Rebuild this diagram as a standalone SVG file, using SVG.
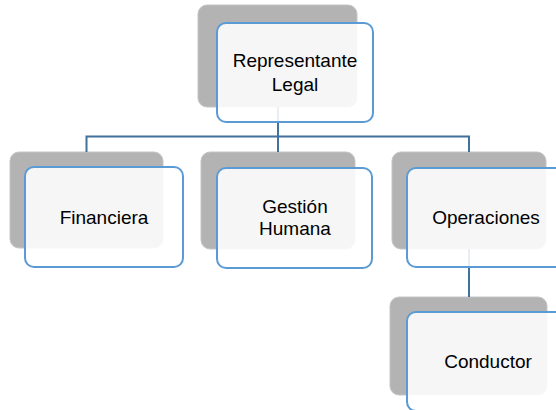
<svg xmlns="http://www.w3.org/2000/svg" width="556" height="410" viewBox="0 0 556 410">
<style>
.shadow{fill:#b3b3b3;stroke:#c4c4c4;stroke-width:1}
.card{fill:#ffffff;fill-opacity:0.88;stroke:#5b9bd5;stroke-width:2}
.lbl{font-family:"Liberation Sans",Arial,sans-serif;font-size:19px;fill:#000;text-anchor:middle}
.conn{fill:none;stroke:#41719c;stroke-width:2}
</style>
<rect width="556" height="410" fill="#ffffff"/>
<g id="shadows">
<rect class="shadow" x="198" y="5" width="159" height="102" rx="9"/>
<rect class="shadow" x="10" y="152" width="153" height="96" rx="9"/>
<rect class="shadow" x="201" y="152" width="154" height="97" rx="9"/>
<rect class="shadow" x="392" y="152" width="154" height="97" rx="9"/>
<rect class="shadow" x="390" y="297" width="157" height="98" rx="9"/>
</g>
<g id="connectors">
<path class="conn" d="M278 107 V136.5 M86.5 152 V136.5 H469 V152 M278 136.5 V152"/>
<path class="conn" d="M469 249 V297"/>
</g>
<g id="node-representante">
<rect class="card" x="217" y="23" width="156" height="99" rx="9"/>
<text class="lbl" x="295" y="67">Representante</text>
<text class="lbl" x="295" y="91">Legal</text>
</g>
<g id="node-financiera">
<rect class="card" x="25" y="167" width="158" height="100" rx="9"/>
<text class="lbl" x="104" y="224">Financiera</text>
</g>
<g id="node-gestion">
<rect class="card" x="217" y="168" width="155" height="100" rx="9"/>
<text class="lbl" x="295" y="213">Gestión</text>
<text class="lbl" x="295" y="235">Humana</text>
</g>
<g id="node-operaciones">
<rect class="card" x="407" y="168" width="158" height="99" rx="9"/>
<text class="lbl" x="486" y="224">Operaciones</text>
</g>
<g id="node-conductor">
<rect class="card" x="407" y="312" width="160" height="99" rx="9"/>
<text class="lbl" x="488" y="368">Conductor</text>
</g>
</svg>
